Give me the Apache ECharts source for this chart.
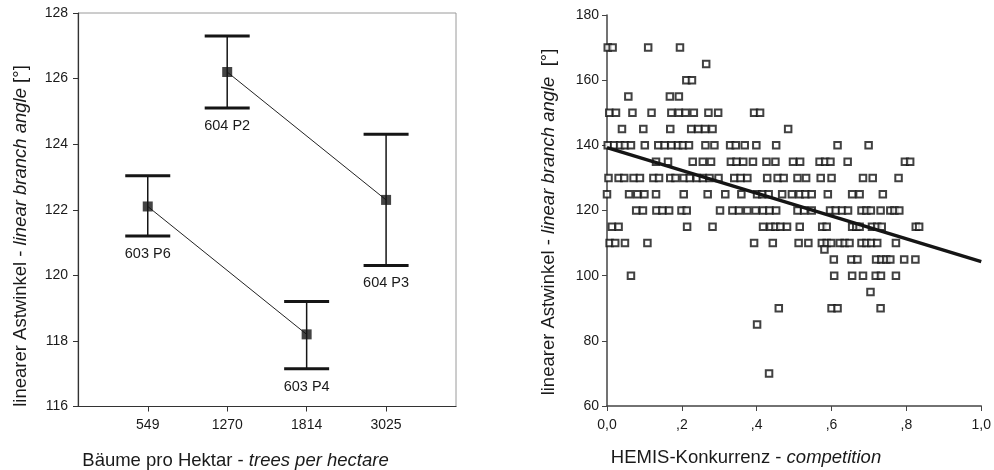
<!DOCTYPE html>
<html>
<head>
<meta charset="utf-8">
<script src="https://cdn.jsdelivr.net/npm/echarts@6/dist/echarts.min.js"></script>
<style>
html,body{margin:0;padding:0;background:#fff;}
#chart{width:994px;height:470px;}
</style>
</head>
<body>
<div id="chart"></div>
<script>
// ---- Left panel: mean branch angle per stand ----
const densityLabels = ['549', '1270', '1814', '3025'];
const plotNames = ['603 P6', '604 P2', '603 P4', '604 P3'];
const standGroup = ['603', '604', '603', '604'];
const meanAngle = [122.1, 126.2, 118.2, 122.3];
const lowerBar = [121.2, 125.1, 117.15, 120.3];
const upperBar = [123.04, 127.3, 119.2, 124.3];
const leftYTicks = [116, 118, 120, 122, 124, 126, 128];

// ---- Right panel: scatter of branch angle vs. HEMIS competition ----
const angleRows = [170, 165, 160, 155, 150, 145, 140, 135, 130, 125, 120, 115, 110, 108, 105, 100, 95, 90, 85, 70];
const comp170 = [0.002, 0.015, 0.110, 0.195];
const comp165 = [0.265];
const comp160 = [0.212, 0.227];
const comp155 = [0.057, 0.168, 0.192];
const comp150 = [0.006, 0.024, 0.068, 0.119, 0.172, 0.192, 0.210, 0.232, 0.271, 0.297, 0.393, 0.409];
const comp145 = [0.040, 0.097, 0.169, 0.225, 0.244, 0.262, 0.282, 0.484];
const comp140 = [0.002, 0.019, 0.035, 0.048, 0.064, 0.101, 0.137, 0.154, 0.172, 0.190, 0.203, 0.219, 0.263, 0.287, 0.329, 0.344, 0.368, 0.399, 0.452, 0.616, 0.699];
const comp135 = [0.131, 0.163, 0.229, 0.256, 0.278, 0.331, 0.346, 0.364, 0.390, 0.426, 0.450, 0.497, 0.516, 0.568, 0.583, 0.597, 0.643, 0.796, 0.810];
const comp130 = [0.004, 0.031, 0.046, 0.071, 0.088, 0.124, 0.139, 0.169, 0.183, 0.205, 0.221, 0.240, 0.256, 0.274, 0.298, 0.340, 0.357, 0.375, 0.428, 0.456, 0.472, 0.509, 0.532, 0.571, 0.600, 0.684, 0.710, 0.779];
const comp125 = [0.000, 0.059, 0.081, 0.100, 0.131, 0.205, 0.269, 0.316, 0.359, 0.401, 0.415, 0.432, 0.468, 0.494, 0.515, 0.530, 0.547, 0.590, 0.655, 0.675, 0.737];
const comp120 = [0.078, 0.096, 0.132, 0.148, 0.166, 0.199, 0.213, 0.302, 0.335, 0.353, 0.375, 0.397, 0.417, 0.434, 0.452, 0.509, 0.527, 0.547, 0.596, 0.611, 0.628, 0.644, 0.680, 0.693, 0.705, 0.731, 0.757, 0.768, 0.781];
const comp115 = [0.013, 0.031, 0.214, 0.282, 0.417, 0.437, 0.450, 0.463, 0.481, 0.515, 0.575, 0.587, 0.655, 0.666, 0.675, 0.708, 0.722, 0.734, 0.825, 0.834];
const comp110 = [0.007, 0.022, 0.048, 0.108, 0.393, 0.443, 0.512, 0.538, 0.574, 0.587, 0.599, 0.622, 0.635, 0.648, 0.680, 0.693, 0.706, 0.722, 0.772];
const comp108 = [0.581];
const comp105 = [0.606, 0.653, 0.669, 0.719, 0.733, 0.746, 0.757, 0.794, 0.824];
const comp100 = [0.064, 0.607, 0.655, 0.684, 0.718, 0.732, 0.772];
const comp95 = [0.704];
const comp90 = [0.459, 0.600, 0.616, 0.731];
const comp85 = [0.401];
const comp70 = [0.433];
const compRows = [comp170, comp165, comp160, comp155, comp150, comp145, comp140, comp135, comp130, comp125, comp120, comp115, comp110, comp108, comp105, comp100, comp95, comp90, comp85, comp70];
const fitX = [0, 1];
const fitY = [139.3, 104.3];
const rightXTicks = [0, 0.2, 0.4, 0.6, 0.8, 1.0];
const rightXTickLabels = ['0,0', ',2', ',4', ',6', ',8', '1,0'];

// ---- build series data ----
const FONT = "'Liberation Sans', Arial, Helvetica, sans-serif";
const TXT = '#1a1a1a';
const meanPts = meanAngle.map((v, i) => [i + 1, v]);
const errData = meanAngle.map((v, i) => [i + 1, lowerBar[i], upperBar[i], i]);
const groups = [...new Set(standGroup)];
const lineSeries = groups.map(g => ({
  type: 'line', xAxisIndex: 0, yAxisIndex: 0, symbol: 'none', silent: true,
  lineStyle: { color: '#222', width: 1 }, z: 2,
  data: meanPts.filter((p, i) => standGroup[i] === g)
}));
const scatterData = [];
angleRows.forEach((a, r) => compRows[r].forEach(x => scatterData.push([x, a])));

const chart = echarts.init(document.getElementById('chart'), null, { renderer: 'canvas' });
chart.setOption({
  animation: false,
  backgroundColor: '#fff',
  textStyle: { fontFamily: FONT },
  grid: [
    { left: 78, top: 13, width: 378, height: 393.5, show: true, borderColor: '#9a9a9a', borderWidth: 1, containLabel: false },
    { left: 607, top: 15, right: 10, height: 391, containLabel: false }
  ],
  xAxis: [
    {
      type: 'value', gridIndex: 0, min: 0.122, max: 4.88,
      axisLine: { show: true, onZero: false, lineStyle: { color: '#333', width: 1.2 } },
      axisTick: { show: true, length: 5, customValues: [1, 2, 3, 4], lineStyle: { color: '#333' } },
      axisLabel: { customValues: [1, 2, 3, 4], formatter: v => densityLabels[Math.round(v) - 1] || '', color: TXT, fontSize: 14, margin: 12, fontFamily: FONT },
      splitLine: { show: false }
    },
    {
      type: 'value', gridIndex: 1, min: 0, max: 1, interval: 0.2,
      axisLine: { show: true, onZero: false, lineStyle: { color: '#444', width: 1.5 } },
      axisTick: { show: true, length: 5, lineStyle: { color: '#444' } },
      axisLabel: {
        formatter: v => { const i = rightXTicks.findIndex(t => Math.abs(t - v) < 1e-6); return i >= 0 ? rightXTickLabels[i] : ''; },
        color: TXT, fontSize: 14, margin: 12, fontFamily: FONT, showMinLabel: true, showMaxLabel: true
      },
      splitLine: { show: false }
    }
  ],
  yAxis: [
    {
      type: 'value', gridIndex: 0, min: 116, max: 128, interval: 2,
      axisLine: { show: true, onZero: false, lineStyle: { color: '#333', width: 1.2 } },
      axisTick: { show: true, length: 5, lineStyle: { color: '#333' } },
      axisLabel: { color: TXT, fontSize: 14, margin: 10, fontFamily: FONT },
      splitLine: { show: false }
    },
    {
      type: 'value', gridIndex: 1, min: 60, max: 180, interval: 20,
      axisLine: { show: true, onZero: false, lineStyle: { color: '#444', width: 1.5 } },
      axisTick: { show: true, length: 5, lineStyle: { color: '#444' } },
      axisLabel: { color: TXT, fontSize: 14, margin: 8, fontFamily: FONT },
      splitLine: { show: false }
    }
  ],
  series: [
    ...lineSeries,
    {
      type: 'custom', xAxisIndex: 0, yAxisIndex: 0, silent: true, z: 3,
      data: errData,
      encode: { x: 0, y: [1, 2] },
      renderItem: (params, api) => {
        const x = api.value(0);
        const pLo = api.coord([x, api.value(1)]);
        const pHi = api.coord([x, api.value(2)]);
        const half = 22.5;
        const idx = api.value(3);
        return {
          type: 'group', children: [
            { type: 'line', shape: { x1: pLo[0], y1: pLo[1], x2: pHi[0], y2: pHi[1] }, style: { stroke: '#151515', lineWidth: 1.5 } },
            { type: 'line', shape: { x1: pLo[0] - half, y1: pLo[1], x2: pLo[0] + half, y2: pLo[1] }, style: { stroke: '#151515', lineWidth: 3 } },
            { type: 'line', shape: { x1: pHi[0] - half, y1: pHi[1], x2: pHi[0] + half, y2: pHi[1] }, style: { stroke: '#151515', lineWidth: 3 } },
            { type: 'text', style: { text: plotNames[idx], x: pLo[0], y: pLo[1] + 18, align: 'center', verticalAlign: 'middle', fontSize: 14.5, fontFamily: FONT, fill: TXT } }
          ]
        };
      }
    },
    {
      type: 'scatter', xAxisIndex: 0, yAxisIndex: 0, silent: true, z: 4,
      symbol: 'rect', symbolSize: 10,
      itemStyle: { color: '#151515' },
      data: meanPts
    },
    {
      type: 'scatter', xAxisIndex: 1, yAxisIndex: 1, silent: true, z: 3,
      symbol: 'rect', symbolSize: 6.5,
      itemStyle: { color: '#fff', borderColor: '#111', borderWidth: 2 },
      data: scatterData
    },
    {
      type: 'line', xAxisIndex: 1, yAxisIndex: 1, silent: true, z: 4, symbol: 'none',
      lineStyle: { color: '#151515', width: 3.5 },
      data: fitX.map((x, i) => [x, fitY[i]])
    }
  ],
  graphic: [
    {
      type: 'text', x: 20.5, y: 236, rotation: Math.PI / 2,
      style: {
        text: '{n|linearer Astwinkel - }{i|linear branch angle}{n| [°]}',
        rich: { n: { fontSize: 18.5, fontFamily: FONT, fill: TXT }, i: { fontSize: 18.5, fontFamily: FONT, fontStyle: 'italic', fill: TXT } },
        align: 'center', verticalAlign: 'middle'
      }
    },
    {
      type: 'text', x: 235.5, y: 461,
      style: {
        text: '{n|Bäume pro Hektar - }{i|trees per hectare}',
        rich: { n: { fontSize: 18.5, fontFamily: FONT, fill: TXT }, i: { fontSize: 18.5, fontFamily: FONT, fontStyle: 'italic', fill: TXT } },
        align: 'center', verticalAlign: 'middle'
      }
    },
    {
      type: 'text', x: 548.5, y: 222, rotation: Math.PI / 2,
      style: {
        text: '{n|linearer Astwinkel - }{i|linear branch angle}{n|  [°]}',
        rich: { n: { fontSize: 18.5, fontFamily: FONT, fill: TXT }, i: { fontSize: 18.5, fontFamily: FONT, fontStyle: 'italic', fill: TXT } },
        align: 'center', verticalAlign: 'middle'
      }
    },
    {
      type: 'text', x: 746, y: 458,
      style: {
        text: '{n|HEMIS-Konkurrenz - }{i|competition}',
        rich: { n: { fontSize: 18.5, fontFamily: FONT, fill: TXT }, i: { fontSize: 18.5, fontFamily: FONT, fontStyle: 'italic', fill: TXT } },
        align: 'center', verticalAlign: 'middle'
      }
    }
  ]
});
</script>
</body>
</html>
